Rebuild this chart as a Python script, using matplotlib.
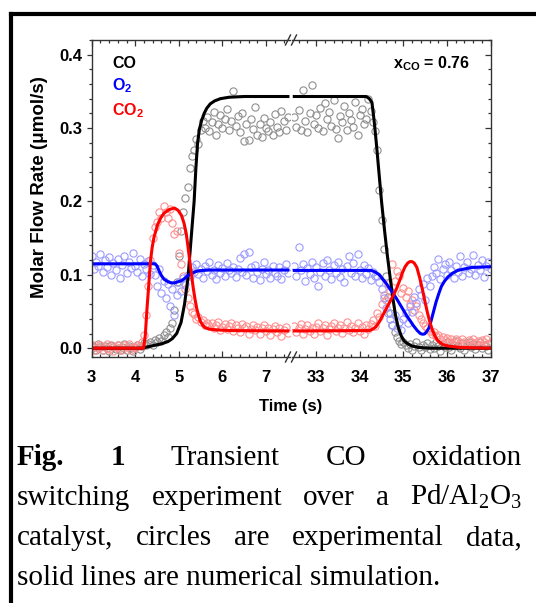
import numpy as np
import matplotlib
matplotlib.use("Agg")
import matplotlib.pyplot as plt
from matplotlib.lines import Line2D
from matplotlib.ticker import MultipleLocator, FormatStrFormatter

plt.rcParams['mathtext.fontset'] = 'custom'
plt.rcParams['mathtext.rm'] = 'Liberation Serif'
plt.rcParams['mathtext.it'] = 'Liberation Serif:italic'
plt.rcParams['mathtext.bf'] = 'Liberation Serif:bold'
plt.rcParams['mathtext.sf'] = 'Liberation Sans:bold'

# ---------------- data ----------------
# sampling grids of the experiment (every 0.05 s)
t_left = np.round(np.arange(3.0, 7.5001, 0.05), 2)
t_right = np.round(np.arange(32.5, 37.0001, 0.05), 2)

co_exp_left = [
    0.004, 0.002, -0.003, 0.006, 0.001, -0.002, 0.003, 0.000, -0.004, 0.005,
    0.002, -0.001, 0.004, -0.003, 0.001, 0.006, -0.002, 0.003, 0.000, -0.004,
    0.002, 0.005, -0.001, 0.003, 0.007, 0.004,
    0.006, 0.009, 0.004, 0.011, 0.008, 0.014, 0.010, 0.018, 0.022, 0.015, 0.028, 0.035,
    0.052, 0.090, 0.125, 0.160, 0.185, 0.205, 0.220, 0.245, 0.262, 0.270, 0.285, 0.278, 0.298, 0.310,
    0.300, 0.315, 0.296, 0.308, 0.322, 0.290, 0.305, 0.318, 0.300, 0.312,
    0.326, 0.298, 0.309, 0.350, 0.303, 0.317, 0.295, 0.321, 0.283, 0.306,
    0.284, 0.312, 0.299, 0.329, 0.291, 0.305, 0.288, 0.314, 0.300, 0.296,
    0.308, 0.290, 0.319, 0.302, 0.295, 0.323, 0.309, 0.298, 0.315]
co_exp_right = [
    0.315, 0.302, 0.325, 0.298, 0.352, 0.310, 0.294, 0.320, 0.358, 0.305,
    0.318, 0.300, 0.328, 0.296, 0.334, 0.312, 0.322, 0.303, 0.338, 0.299,
    0.287, 0.316, 0.308, 0.330, 0.297, 0.321, 0.311, 0.302, 0.335, 0.290,
    0.318, 0.326, 0.305, 0.312, 0.340, 0.323, 0.308, 0.296,
    0.270, 0.215, 0.175, 0.135, 0.098, 0.070, 0.048, 0.032, 0.022, 0.015, 0.010, 0.006, 0.008,
    0.004, 0.000, 0.006, -0.002, 0.003, 0.008, 0.001, -0.003, 0.005, 0.002,
    0.007, -0.001, 0.004, 0.000, 0.009, 0.003, -0.004, 0.006, 0.002, 0.008,
    0.001, -0.002, 0.005, 0.010, 0.003, 0.000, 0.007, -0.003, 0.004, 0.009,
    0.002, 0.006, -0.001, 0.004, 0.008, 0.000, 0.005, 0.003, -0.002, 0.006]
o2_exp_left = [
    0.125, 0.108, 0.118, 0.112, 0.128, 0.104, 0.120, 0.110, 0.124, 0.100,
    0.116, 0.106, 0.122, 0.095, 0.114, 0.126, 0.102, 0.118, 0.109, 0.130,
    0.112, 0.104, 0.121, 0.098, 0.115, 0.108, 0.119, 0.101, 0.113,
    0.100, 0.085, 0.108, 0.075, 0.092, 0.068, 0.088, 0.058, 0.080, 0.045,
    0.072, 0.090, 0.078, 0.095, 0.088, 0.100,
    0.098, 0.110, 0.104, 0.115, 0.101, 0.108, 0.096, 0.112, 0.105, 0.118,
    0.100, 0.107, 0.094, 0.113, 0.103, 0.109, 0.099, 0.116, 0.106, 0.102,
    0.111, 0.097, 0.108, 0.123, 0.104, 0.128, 0.100, 0.131, 0.110, 0.096,
    0.113, 0.104, 0.093, 0.108, 0.117, 0.101, 0.106, 0.095, 0.112, 0.103,
    0.099, 0.110, 0.094, 0.107, 0.115, 0.102]
o2_exp_right = [
    0.112, 0.098, 0.138, 0.106, 0.115, 0.092, 0.109, 0.101, 0.118, 0.096,
    0.110, 0.085, 0.104, 0.116, 0.099, 0.120, 0.107, 0.094, 0.113, 0.102,
    0.118, 0.097, 0.108, 0.090, 0.112, 0.125, 0.103, 0.116, 0.099, 0.128,
    0.106, 0.096, 0.114, 0.101, 0.109, 0.093, 0.104, 0.098,
    0.098, 0.090, 0.080, 0.068, 0.055, 0.048, 0.040, 0.032, 0.045, 0.028,
    0.036, 0.025, 0.040, 0.048, 0.035, 0.058, 0.050, 0.070, 0.062, 0.080,
    0.072, 0.088, 0.065, 0.095, 0.085,
    0.098, 0.110, 0.102, 0.122, 0.094, 0.108, 0.115, 0.100, 0.118, 0.106,
    0.096, 0.112, 0.104, 0.125, 0.099, 0.110, 0.118, 0.102, 0.108, 0.127,
    0.100, 0.114, 0.106, 0.120, 0.097, 0.112, 0.118, 0.108]
co2_exp_left = [
    0.002, -0.003, 0.004, 0.000, 0.005, -0.002, 0.001, 0.006, -0.001, 0.003,
    -0.004, 0.002, 0.005, 0.000, -0.002, 0.004, 0.001, 0.006, -0.003, 0.002,
    0.000, 0.005, 0.003, 0.008,
    0.018, 0.045, 0.085, 0.120, 0.150, 0.165, 0.172, 0.185, 0.178, 0.194,
    0.185, 0.178, 0.190, 0.170, 0.155, 0.160, 0.130, 0.115, 0.098, 0.080, 0.068,
    0.058, 0.050, 0.046, 0.040, 0.043, 0.036, 0.038, 0.032, 0.035, 0.030,
    0.034, 0.027, 0.031, 0.036, 0.025, 0.029, 0.033, 0.026, 0.030, 0.035,
    0.024, 0.031, 0.028, 0.022, 0.033, 0.027, 0.030, 0.020, 0.026, 0.032,
    0.025, 0.029, 0.019, 0.027, 0.031, 0.023, 0.028, 0.018, 0.026, 0.030,
    0.022, 0.027, 0.017, 0.025, 0.029, 0.021]
co2_exp_right = [
    0.030, 0.022, 0.027, 0.033, 0.019, 0.026, 0.031, 0.024, 0.028, 0.020,
    0.029, 0.034, 0.023, 0.027, 0.031, 0.018, 0.026, 0.030, 0.035, 0.024,
    0.028, 0.032, 0.021, 0.027, 0.036, 0.025, 0.030, 0.022, 0.028, 0.034,
    0.024, 0.029, 0.020, 0.031, 0.026, 0.033,
    0.038, 0.030, 0.048, 0.042, 0.060, 0.072, 0.065, 0.088, 0.078, 0.115,
    0.092, 0.105, 0.098, 0.075, 0.082, 0.070, 0.078, 0.060, 0.066, 0.052,
    0.058, 0.045, 0.040, 0.035, 0.030,
    0.028, 0.024, 0.020, 0.022, 0.016, 0.018, 0.013, 0.015, 0.011, 0.014,
    0.009, 0.012, 0.008, 0.013, 0.010, 0.007, 0.012, 0.009, 0.006, 0.011,
    0.008, 0.013, 0.007, 0.010, 0.005, 0.011, 0.008, 0.012, 0.006, 0.009]

# simulation curves
co_sim_t_left = [3.0, 4.15, 4.3, 4.45, 4.6, 4.75, 4.85, 4.95, 5.05, 5.13, 5.21, 5.29, 5.35,
                 5.39, 5.43, 5.47, 5.52, 5.58, 5.64, 5.72, 5.82, 5.95, 6.15, 6.5, 7.5]
co_sim_v_left = [0.0, 0.0, 0.002, 0.004, 0.006, 0.009, 0.013, 0.020, 0.035, 0.060, 0.096, 0.156, 0.200,
                 0.245, 0.280, 0.298, 0.310, 0.320, 0.327, 0.333, 0.337, 0.340, 0.342, 0.343, 0.343]
co_sim_t_right = [32.5, 34.15, 34.22, 34.28, 34.33, 34.38, 34.44, 34.5, 34.57, 34.63, 34.7, 34.76,
                  34.82, 34.88, 34.95, 35.02, 35.1, 35.2, 35.35, 35.6, 37.0]
co_sim_v_right = [0.343, 0.343, 0.340, 0.335, 0.310, 0.280, 0.240, 0.200, 0.160, 0.128, 0.095, 0.068,
                  0.045, 0.029, 0.017, 0.0097, 0.006, 0.003, 0.001, 0.0, 0.0]

co2_sim_t_left = [3.0, 4.19, 4.23, 4.27, 4.31, 4.35, 4.39, 4.43, 4.51, 4.58, 4.66, 4.78, 4.9, 4.98,
                  5.06, 5.12, 5.17, 5.21, 5.25, 5.29, 5.33, 5.37, 5.41, 5.45, 5.49, 5.55, 5.6, 5.7,
                  5.84, 6.2, 7.5]
co2_sim_v_left = [0.0, 0.0, 0.017, 0.054, 0.086, 0.119, 0.138, 0.151, 0.168, 0.177, 0.184, 0.189, 0.191,
                  0.188, 0.181, 0.170, 0.156, 0.138, 0.119, 0.100, 0.082, 0.067, 0.054, 0.045, 0.037,
                  0.031, 0.028, 0.026, 0.025, 0.024, 0.0235]
co2_sim_t_right = [32.5, 34.22, 34.3, 34.37, 34.45, 34.53, 34.61, 34.69, 34.77, 34.85, 34.92, 34.98,
                   35.04, 35.1, 35.15, 35.2, 35.25, 35.31, 35.37, 35.43, 35.49, 35.55, 35.61, 35.67,
                   35.73, 35.79, 35.9, 36.02, 36.3, 37.0]
co2_sim_v_right = [0.0235, 0.024, 0.026, 0.029, 0.036, 0.045, 0.054, 0.063, 0.072, 0.082, 0.093, 0.103,
                   0.111, 0.116, 0.118, 0.118, 0.116, 0.110, 0.097, 0.082, 0.065, 0.049, 0.035, 0.024,
                   0.016, 0.010, 0.005, 0.003, 0.001, 0.0]

o2_sim_t_left = [3.0, 4.45, 4.5, 4.55, 4.6, 4.66, 4.74, 4.82, 4.9, 4.98, 5.06, 5.13, 5.21, 5.29,
                 5.37, 5.45, 5.55, 5.7, 6.0, 7.5]
o2_sim_v_left = [0.115, 0.115, 0.112, 0.105, 0.099, 0.094, 0.091, 0.089, 0.089, 0.0905, 0.092, 0.095,
                 0.099, 0.102, 0.104, 0.1055, 0.106, 0.1065, 0.1065, 0.1065]
o2_sim_t_right = [32.5, 34.26, 34.35, 34.45, 34.53, 34.61, 34.69, 34.77, 34.85, 34.92, 35.0, 35.08,
                  35.16, 35.24, 35.32, 35.39, 35.44, 35.49, 35.54, 35.59, 35.63, 35.67, 35.71, 35.75,
                  35.81, 35.87, 35.94, 36.02, 36.12, 36.25, 36.4, 36.57, 36.75, 37.0]
o2_sim_v_right = [0.106, 0.106, 0.104, 0.100, 0.094, 0.088, 0.081, 0.0743, 0.067, 0.060, 0.052, 0.044,
                  0.037, 0.030, 0.024, 0.020, 0.019, 0.0195, 0.023, 0.028, 0.036, 0.045, 0.054, 0.063,
                  0.074, 0.084, 0.091, 0.097, 0.102, 0.106, 0.108, 0.110, 0.1105, 0.111]

left_xticks = [3, 4, 5, 6, 7]
right_xticks = [33, 34, 35, 36, 37]
yticks = [0.0, 0.1, 0.2, 0.3, 0.4]

# ---------------- figure ----------------
W, H = 536, 603
fig = plt.figure(figsize=(W / 100, H / 100), dpi=100)
fig.patch.set_facecolor('white')


def fx(x):
    return x / W


def fy(y):
    return 1 - y / H


AX_TOP, AX_BOT = 40.0, 357.0
L0, L1, R0, R1 = 91.6, 290.1, 292.1, 490.6
ax_l = fig.add_axes([fx(L0), fy(AX_BOT), (L1 - L0) / W, (AX_BOT - AX_TOP) / H])
ax_r = fig.add_axes([fx(R0), fy(AX_BOT), (R1 - R0) / W, (AX_BOT - AX_TOP) / H])

GRAY, LBLUE, LRED = '#8f8f8f', '#9b9bff', '#ff8f8f'
mk = dict(ls='none', marker='o', mfc='none', ms=5.2, mew=0.8)

ax_l.plot(t_left, co_exp_left, mec=GRAY, **mk)
ax_l.plot(t_left, co2_exp_left, mec=LRED, **mk)
ax_l.plot(t_left, o2_exp_left, mec=LBLUE, **mk)
ax_r.plot(t_right, co_exp_right, mec=GRAY, **mk)
ax_r.plot(t_right, co2_exp_right, mec=LRED, **mk)
ax_r.plot(t_right, o2_exp_right, mec=LBLUE, **mk)

lw = 2.2
ax_l.plot(co_sim_t_left, co_sim_v_left, color='black', lw=lw)
ax_l.plot(o2_sim_t_left, o2_sim_v_left, color='#0000ff', lw=lw)
ax_l.plot(co2_sim_t_left, co2_sim_v_left, color='#ff0000', lw=lw)
ax_r.plot(co_sim_t_right, co_sim_v_right, color='black', lw=lw)
ax_r.plot(o2_sim_t_right, o2_sim_v_right, color='#0000ff', lw=lw)
ax_r.plot(co2_sim_t_right, co2_sim_v_right, color='#ff0000', lw=lw)

TICK_FS = 12
for ax in (ax_l, ax_r):
    ax.set_ylim(-0.012, 0.42)
    ax.yaxis.set_major_locator(MultipleLocator(0.1))
    ax.yaxis.set_minor_locator(MultipleLocator(0.02))
    ax.xaxis.set_minor_locator(MultipleLocator(0.2))
    for s in ax.spines.values():
        s.set_color('#333333')
        s.set_linewidth(1.0)
    ax.tick_params(axis='x', which='both', direction='in', top=True, bottom=True,
                   colors='#333333', labelcolor='black', width=0.9, pad=9.5)
    ax.tick_params(axis='x', which='major', length=4.5)
    ax.tick_params(axis='x', which='minor', length=2.5)

ax_l.set_xlim(3.0, 7.55)
ax_r.set_xlim(32.45, 37.0)
ax_l.set_xticks(left_xticks)
ax_r.set_xticks(right_xticks)
ax_l.set_yticks(yticks)
ax_l.yaxis.set_major_formatter(FormatStrFormatter('%.1f'))

ax_l.spines['right'].set_visible(False)
ax_r.spines['left'].set_visible(False)
ax_l.tick_params(axis='y', which='both', direction='out', left=True, right=False,
                 colors='#333333', labelcolor='black', width=0.9, pad=3.5)
ax_l.tick_params(axis='y', which='major', length=3.5)
ax_l.tick_params(axis='y', which='minor', length=2.0)
ax_r.tick_params(axis='y', which='both', direction='in', left=False, right=True,
                 labelleft=False, colors='#333333', width=0.9)
ax_r.tick_params(axis='y', which='major', length=4.5)
ax_r.tick_params(axis='y', which='minor', length=2.5)

for ax in (ax_l, ax_r):
    for lab in ax.get_xticklabels() + ax.get_yticklabels():
        lab.set_fontfamily('Liberation Sans')
        lab.set_fontweight('bold')
        lab.set_fontsize(TICK_FS)

# break marks
for yb in (AX_TOP, AX_BOT):
    for cx in (288.0, 294.0):
        fig.add_artist(Line2D([fx(cx - 2.5), fx(cx + 2.5)], [fy(yb + 5), fy(yb - 5)],
                              transform=fig.transFigure, color='#333333', lw=1.0))

# labels inside the plot
lab = dict(transform=fig.transFigure, fontfamily='Liberation Sans', fontweight='bold',
           fontsize=11.5, va='baseline', ha='left')
fig.text(fx(112), fy(68), 'CO', color='black', **lab)
fig.text(fx(112), fy(91), r'O$_\mathsf{2}$', color='#0000ff', **lab)
fig.text(fx(112), fy(116), r'CO$_\mathsf{2}$', color='#ff0000', **lab)
fig.text(fx(393), fy(69), r'x$_\mathsf{CO}$ = 0.76', color='black', **lab)

fig.text(fx((L0 + R1) / 2), fy(406), 'Time (s)', ha='center', va='center',
         fontfamily='Liberation Sans', fontweight='bold', fontsize=12)
fig.text(fx(40), fy(187), 'Molar Flow Rate (μmol/s)', ha='center', va='center',
         rotation=90, fontfamily='Liberation Sans', fontweight='bold', fontsize=13.5)

# outer frame
fig.add_artist(Line2D([fx(10.5), fx(10.5)], [fy(13.5), fy(H + 10)], transform=fig.transFigure,
                      color='black', lw=3.0, solid_capstyle='projecting'))
fig.add_artist(Line2D([fx(10.5), fx(W + 10)], [fy(13.5), fy(13.5)], transform=fig.transFigure,
                      color='black', lw=3.0, solid_capstyle='projecting'))

# caption (justified)
CAP_FS = 21
caption_lines = [
    [('Fig.', 'bold'), ('1', 'bold'), ('Transient', 'normal'), ('CO', 'normal'), ('oxidation', 'normal')],
    [('switching', 'normal'), ('experiment', 'normal'), ('over', 'normal'), ('a', 'normal'),
     (r'Pd/Al$_2$O$_3$', 'normal')],
    [('catalyst,', 'normal'), ('circles', 'normal'), ('are', 'normal'), ('experimental', 'normal'),
     ('data,', 'normal')],
]
last_line = 'solid lines are numerical simulation.'
baselines = [465, 505, 545, 585]
CAP_L, CAP_R = 17.0, 522.0

renderer = fig.canvas.get_renderer()
for words, yb in zip(caption_lines, baselines[:3]):
    objs = []
    for w, wt in words:
        t = fig.text(0, fy(yb), w, ha='left', va='baseline', fontfamily='Liberation Serif',
                     fontsize=CAP_FS, fontweight=wt, color='black')
        objs.append(t)
    widths = [o.get_window_extent(renderer).width for o in objs]
    gap = (CAP_R - CAP_L - sum(widths)) / (len(objs) - 1)
    x = CAP_L
    for o, wd in zip(objs, widths):
        o.set_x(fx(x))
        x += wd + gap
fig.text(fx(CAP_L), fy(baselines[3]), last_line, ha='left', va='baseline',
         fontfamily='Liberation Serif', fontsize=CAP_FS, color='black')

fig.savefig('out.png', dpi=100, facecolor='white')
